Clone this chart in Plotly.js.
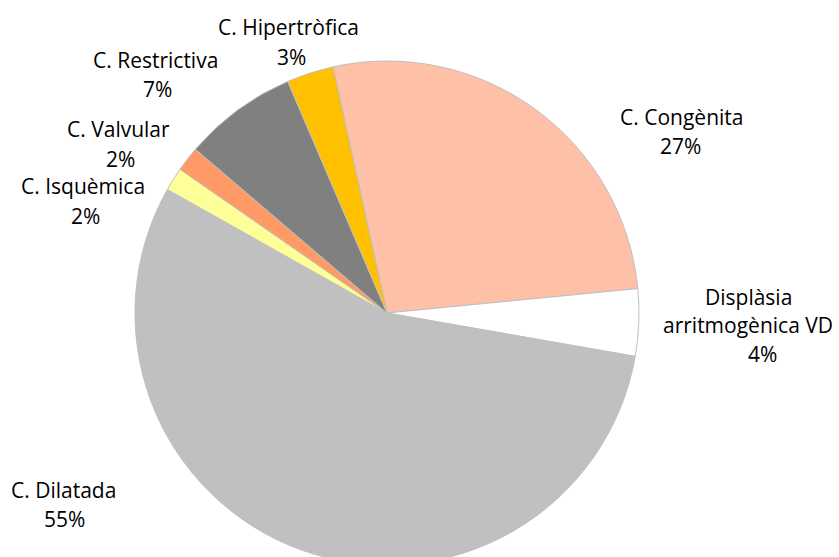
<!DOCTYPE html>
<html>
<head>
<meta charset="utf-8">
<script src="https://cdn.plot.ly/plotly-3.0.1.min.js"></script>
<style>
html, body { margin: 0; padding: 0; overflow: hidden; background: #fff; }
#chart { width: 839px; height: 626px; }
</style>
</head>
<body>
<div id="chart"></div>
<script>
// Data (percent shares)
const categories = ["C. Congènita", "Displàsia arritmogènica VD", "C. Dilatada", "C. Isquèmica", "C. Valvular", "C. Restrictiva", "C. Hipertròfica"];
const labelLines = [["C. Congènita"], ["Displàsia", "arritmogènica VD"], ["C. Dilatada"], ["C. Isquèmica"], ["C. Valvular"], ["C. Restrictiva"], ["C. Hipertròfica"]];
const values = [26.9, 4.3, 55.4, 1.5, 1.6, 7.3, 3.0];
const colors = ["#FFC0A8", "#FFFFFF", "#C0C0C0", "#FFFF99", "#FF9966", "#808080", "#FFC000"];

// label line centres in pixels (layout only), one entry per text line incl. the percent line
const labelPos = [
  [[681, 117], [680, 146]],
  [[748, 297], [748, 325], [762, 354]],
  [[63, 490], [64, 519]],
  [[83, 186], [85, 216]],
  [[118, 129], [120, 159]],
  [[155, 60], [157, 89]],
  [[288, 27], [291, 57]]
];

const W = 839, H = 626;
const total = values.reduce((a, b) => a + b, 0);

const annotations = [];
categories.forEach((c, i) => {
  const lines = labelLines[i].concat([Math.round(values[i] / total * 100) + "%"]);
  lines.forEach((t, j) => {
    annotations.push({
      text: t,
      x: labelPos[i][j][0] / W, y: 1 - labelPos[i][j][1] / H,
      xref: "paper", yref: "paper", xanchor: "center", yanchor: "middle",
      showarrow: false, align: "center",
      font: { family: "'Open Sans', sans-serif", size: 21, color: "#000" }
    });
  });
});

const trace = {
  type: "pie",
  labels: categories,
  values: values,
  sort: false,
  direction: "clockwise",
  rotation: -12.4,
  textinfo: "none",
  hoverinfo: "label+percent",
  marker: { colors: colors, line: { color: "#BFBFBF", width: 1 } },
  domain: { x: [135 / W, 639 / W], y: [(H - 565) / H, (H - 61) / H] },
  showlegend: false
};

Plotly.newPlot("chart", [trace], {
  width: W, height: H,
  margin: { l: 0, r: 0, t: 0, b: 0 },
  paper_bgcolor: "#fff",
  showlegend: false,
  annotations: annotations
}, { displayModeBar: false, staticPlot: true });
</script>
</body>
</html>
